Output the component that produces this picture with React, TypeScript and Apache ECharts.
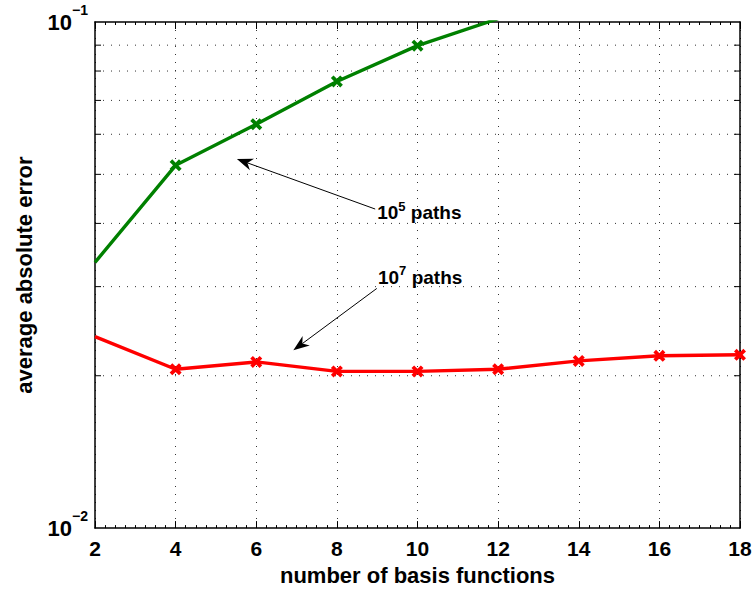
import React, { useEffect, useRef } from "react";
import * as echarts from "echarts";

// Number of basis functions on the x axis
const basisCounts = [2, 4, 6, 8, 10, 12, 14, 16, 18];
// Average absolute error, 10^5 simulated paths (leaves the axes after x = 10)
const error1e5 = [0.0335, 0.0521, 0.0628, 0.0763, 0.0898, 0.1015];
// Average absolute error, 10^7 simulated paths
const error1e7 = [0.0239, 0.0206, 0.0213, 0.0204, 0.0204, 0.0206, 0.0214, 0.0219, 0.022];
// Intermediate decade lines of the log axis
const logMinorTicks = [0.02, 0.03, 0.04, 0.05, 0.06, 0.07, 0.08, 0.09];
const xRange = [2, 18];
const yRange = [0.01, 0.1];

// Annotations in data coordinates: label anchor, arrow tail and arrow tip
const label1e5 = [9.0, 0.042];
const arrow1e5 = [
  [8.95, 0.0427],
  [5.52, 0.0536],
];
const label1e7 = [9.02, 0.0313];
const arrow1e7 = [
  [8.99, 0.02975],
  [6.92, 0.02246],
];

const FONT = "'Liberation Sans', Arial, Helvetica, sans-serif";
const CROSS =
  "path://M0,2.2L2.2,0L5,2.8L7.8,0L10,2.2L7.2,5L10,7.8L7.8,10L5,7.2L2.2,10L0,7.8L2.8,5Z";

function seriesData(values: number[]) {
  return values.map((v, i) =>
    i === 0 ? { value: [basisCounts[i], v], symbol: "none" } : [basisCounts[i], v]
  );
}

function arrowHead(tail: number[], tip: number[]) {
  const dx = tip[0] - tail[0];
  const dy = tip[1] - tail[1];
  const len = Math.hypot(dx, dy);
  const ux = dx / len;
  const uy = dy / len;
  const nx = -uy;
  const ny = ux;
  const L = 16;
  const W = 6;
  const bx = tip[0] - ux * L;
  const by = tip[1] - uy * L;
  const mx = tip[0] - ux * L * 0.7;
  const my = tip[1] - uy * L * 0.7;
  return [
    [tip[0], tip[1]],
    [bx + nx * W, by + ny * W],
    [mx, my],
    [bx - nx * W, by - ny * W],
  ];
}

export default function App() {
  const ref = useRef<HTMLDivElement>(null);

  useEffect(() => {
    if (!ref.current) return;
    const chart = echarts.init(ref.current, undefined, { renderer: "svg" });

    const tickLabel = {
      color: "#000",
      fontFamily: FONT,
      fontWeight: "bold" as const,
      fontSize: 21,
    };

    const frameLine = { show: true, onZero: false, lineStyle: { color: "#000", width: 1.5 } };

    chart.setOption({
      animation: false,
      backgroundColor: "#fff",
      grid: { left: 95, right: 15, top: 22, bottom: 60, containLabel: false },
      xAxis: [
        {
          type: "value",
          position: "bottom",
          min: xRange[0],
          max: xRange[1],
          interval: 2,
          axisLine: frameLine,
          axisTick: { show: true, inside: true, length: 7, lineStyle: { color: "#000" } },
          minorTick: { show: true, splitNumber: 8, length: 3, lineStyle: { color: "#000" } },
          splitLine: { show: true, lineStyle: { color: "#333", width: 1, type: [1, 7] } },
          axisLabel: { ...tickLabel, margin: 10 },
          name: "number of basis functions",
          nameLocation: "middle",
          nameGap: 33,
          nameTextStyle: { color: "#000", fontFamily: FONT, fontWeight: "bold", fontSize: 22 },
        },
        {
          type: "value",
          position: "top",
          min: xRange[0],
          max: xRange[1],
          interval: 2,
          axisLine: frameLine,
          axisTick: { show: true, inside: true, length: 7, lineStyle: { color: "#000" } },
          minorTick: { show: true, splitNumber: 8, length: 3, lineStyle: { color: "#000" } },
          splitLine: { show: false },
          axisLabel: { show: false },
        },
      ],
      yAxis: [
        {
          type: "log",
          logBase: 10,
          position: "left",
          min: yRange[0],
          max: yRange[1],
          axisLine: frameLine,
          axisTick: { show: false },
          splitLine: { show: false },
          axisLabel: {
            margin: 7,
            formatter: (v: number) => `{b|10}{s|\u2212${Math.abs(Math.round(Math.log10(v)))}}`,
            rich: {
              b: { ...tickLabel, fontSize: 22, lineHeight: 38 },
              s: { ...tickLabel, fontSize: 14, lineHeight: 16, verticalAlign: "top" },
            },
          },
          name: "average absolute error",
          nameLocation: "middle",
          nameGap: 60,
          nameTextStyle: { color: "#000", fontFamily: FONT, fontWeight: "bold", fontSize: 22 },
        },
        {
          type: "log",
          logBase: 10,
          position: "right",
          min: yRange[0],
          max: yRange[1],
          axisLine: frameLine,
          axisTick: { show: false },
          splitLine: { show: false },
          axisLabel: { show: false },
        },
      ],
      series: [
        {
          // dotted lines at 2..9 x 10^-2 plus the inward minor ticks on both sides
          type: "custom",
          coordinateSystem: "cartesian2d",
          silent: true,
          z: 1,
          data: logMinorTicks.map((v) => [xRange[0], v]),
          renderItem: (_params: any, api: any) => {
            const v = api.value(1);
            const a = api.coord([xRange[0], v]);
            const b = api.coord([xRange[1], v]);
            const t = 6;
            return {
              type: "group",
              children: [
                {
                  type: "line",
                  shape: { x1: a[0], y1: a[1], x2: b[0], y2: b[1] },
                  style: { stroke: "#333", lineWidth: 1, lineDash: [1, 7] },
                },
                {
                  type: "line",
                  shape: { x1: a[0], y1: a[1], x2: a[0] + t, y2: a[1] },
                  style: { stroke: "#000", lineWidth: 1 },
                },
                {
                  type: "line",
                  shape: { x1: b[0] - t, y1: b[1], x2: b[0], y2: b[1] },
                  style: { stroke: "#000", lineWidth: 1 },
                },
              ],
            };
          },
        },
        {
          name: "10^5 paths",
          type: "line",
          z: 3,
          data: seriesData(error1e5),
          symbol: CROSS,
          symbolSize: 12,
          showAllSymbol: true,
          clip: true,
          lineStyle: { color: "#008000", width: 3.4 },
          itemStyle: { color: "#008000" },
        },
        {
          name: "10^7 paths",
          type: "line",
          z: 3,
          data: seriesData(error1e7),
          symbol: CROSS,
          symbolSize: 12,
          showAllSymbol: true,
          clip: true,
          lineStyle: { color: "#ff0000", width: 3.4 },
          itemStyle: { color: "#ff0000" },
        },
      ],
    });

    const px = (p: number[]) =>
      chart.convertToPixel({ xAxisIndex: 0, yAxisIndex: 0 }, p) as number[];

    const annotation = (label: number[], arrow: number[][], power: string) => {
      const tail = px(arrow[0]);
      const tip = px(arrow[1]);
      const head = arrowHead(tail, tip);
      const lp = px(label);
      return [
        {
          type: "line",
          z: 10,
          shape: { x1: tail[0], y1: tail[1], x2: head[2][0], y2: head[2][1] },
          style: { stroke: "#000", lineWidth: 1 },
        },
        {
          type: "polygon",
          z: 10,
          shape: { points: head },
          style: { fill: "#000" },
        },
        {
          type: "text",
          z: 10,
          x: lp[0],
          y: lp[1],
          style: {
            text: `{b|10}{s|${power}}{b| paths}`,
            align: "left",
            verticalAlign: "middle",
            rich: {
              b: { fontFamily: FONT, fontWeight: "bold", fontSize: 19, lineHeight: 26, fill: "#000" },
              s: {
                fontFamily: FONT,
                fontWeight: "bold",
                fontSize: 13,
                lineHeight: 13,
                verticalAlign: "top",
                fill: "#000",
              },
            },
          },
        },
      ];
    };

    chart.setOption({
      graphic: [...annotation(label1e5, arrow1e5, "5"), ...annotation(label1e7, arrow1e7, "7")],
    });

    return () => chart.dispose();
  }, []);

  return (
    <div
      ref={ref}
      style={{ position: "fixed", left: 0, top: 0, width: 755, height: 591, background: "#fff" }}
    />
  );
}
